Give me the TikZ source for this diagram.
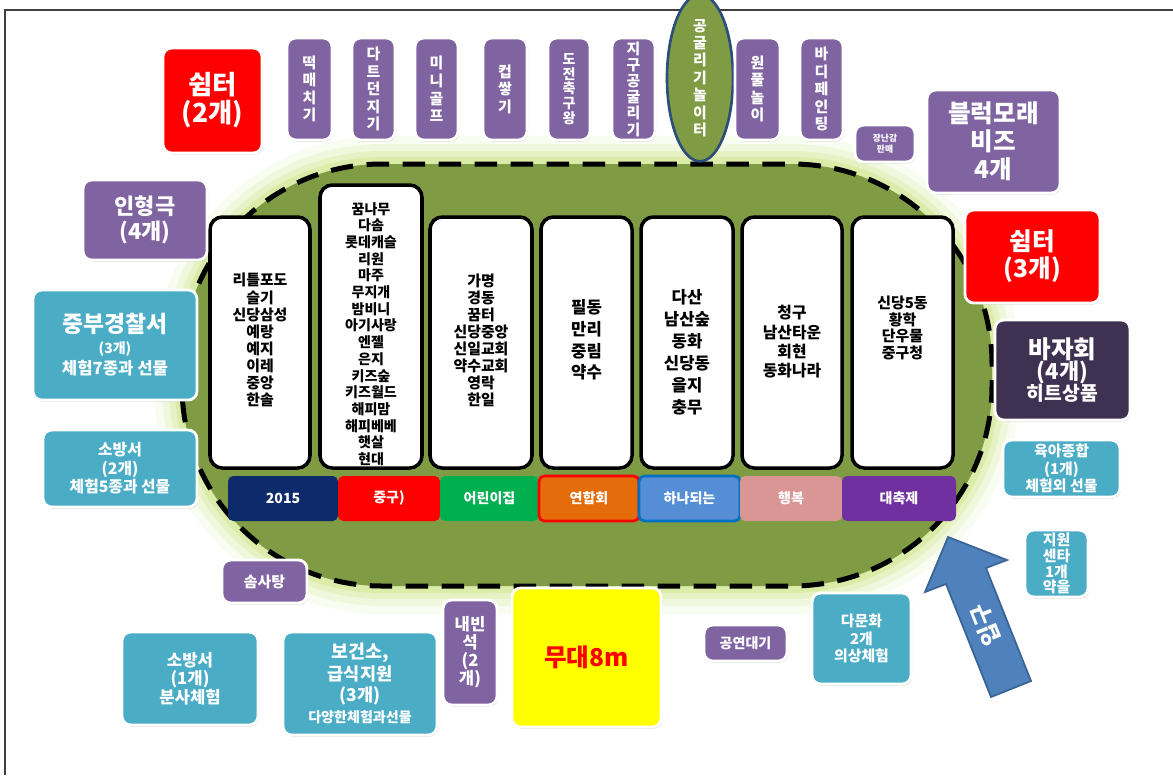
\documentclass[tikz,border=0pt]{standalone}
\usepackage{fontspec}
\setmainfont{Noto Sans CJK KR}
\usetikzlibrary{shapes.geometric,shadows}
\definecolor{cpurp}{HTML}{8064A2}
\definecolor{cteal}{HTML}{4BACC6}
\definecolor{colive}{HTML}{7F9C45}
\definecolor{chalo}{HTML}{CFE58C}
\definecolor{cnavy}{HTML}{0D2A6A}
\definecolor{cred}{HTML}{FF0000}
\definecolor{cgreen}{HTML}{00B050}
\definecolor{corange}{HTML}{E46C0A}
\definecolor{cblue}{HTML}{558ED5}
\definecolor{cblueline}{HTML}{0070C0}
\definecolor{cpink}{HTML}{D99694}
\definecolor{cviolet}{HTML}{7030A0}
\definecolor{cdark}{HTML}{3F3151}
\definecolor{cyellow}{HTML}{FFFF00}
\definecolor{carrow}{HTML}{4F81BD}
\definecolor{carrowline}{HTML}{3A6496}
\definecolor{cring}{HTML}{2C4D7A}
\newcommand{\fs}[2]{\fontsize{#1}{#2}\selectfont}

\begin{document}
\begin{tikzpicture}[x=0.02cm,y=-0.02cm,
  sz/.style 2 args={minimum width=#1*0.02cm,minimum height=#2*0.02cm},
  tile/.style={rounded corners=5pt,draw=white,line width=1.6pt,inner sep=0pt,align=center,text=white,font=\bfseries,
    drop shadow={opacity=.35,shadow xshift=.6pt,shadow yshift=-.9pt}},
  pbox/.style={tile,fill=cpurp},
  tbox/.style={tile,fill=cteal},
  vtxt/.style={font=\bfseries\fs{8.5}{10}},
  col/.style={draw=black,line width=2pt,fill=white,rounded corners=7pt,inner sep=0pt},
  coltxt/.style={align=center,inner sep=0pt,font=\bfseries\fs{8.5}{9.7}},
  bar/.style={rounded corners=3pt,inner sep=0pt,text=white,font=\bfseries\fs{8}{9},sz={#1}{45}}]
\useasboundingbox (0,0) rectangle (1173,775);
\draw[line width=1.2pt,black!75] (5,775) -- (5,10) -- (1173,10);

% field
\foreach \w/\o in {56/.12,40/.2,26/.3,14/.5}
  \draw[chalo,line width=\w*0.02cm,opacity=\o,rounded corners=4cm] (182,164) rectangle (992,586);
\fill[colive,rounded corners=4cm] (182,164) rectangle (992,586);
\draw[line width=0.1cm,dash pattern=on 0.45cm off 0.27cm,rounded corners=4cm] (182,164) rectangle (992,586);

\node[col,sz={100}{251}] (col1) at (260,342.5) {};
\node[col,sz={102}{283}] (col2) at (371,326.5) {};
\node[col,sz={102}{251}] (col3) at (481,342.5) {};
\node[col,sz={91}{251}] (col4) at (586.5,342.5) {};
\node[col,sz={92}{251}] (col5) at (687,342.5) {};
\node[col,sz={100}{251}] (col6) at (792,342.5) {};
\node[col,sz={101}{251}] (col7) at (902.5,342.5) {};

\node[coltxt] (txt1) at (260,340) {리틀포도\\슬기\\신당삼성\\예랑\\예지\\이레\\중앙\\한솔};
\node[coltxt,font=\bfseries\fs{8}{9.5}] (txt2) at (371,334) {꿈나무\\다솜\\롯데캐슬\\리원\\마주\\무지개\\밤비니\\아기사랑\\엔젤\\은지\\키즈숲\\키즈월드\\해피맘\\해피베베\\햇살\\현대};
\node[coltxt] (txt3) at (481,340) {가명\\경동\\꿈터\\신당중앙\\신일교회\\약수교회\\영락\\한일};
\node[coltxt,font=\bfseries\fs{9.5}{12.3}] (txt4) at (586.5,340) {필동\\만리\\중림\\약수};
\node[coltxt,font=\bfseries\fs{9.5}{12.5}] (txt5) at (687,352) {다산\\남산숲\\동화\\신당동\\을지\\충무};
\node[coltxt,font=\bfseries\fs{9}{11}] (txt6) at (792,342) {청구\\남산타운\\회현\\동화나라};
\node[coltxt,font=\bfseries\fs{8.5}{9.5}] (txt7) at (902.5,328) {신당5동\\황학\\단우물\\중구청};

\node[bar=110,fill=cnavy] (b2015) at (283,498.5) {2015};
\node[bar=102,fill=cred] (bjunggu) at (389,498.5) {중구)};
\node[bar=99,fill=cgreen] (bkinder) at (489.5,498.5) {어린이집};
\node[bar=100,fill=corange,draw=cred,line width=1.5pt] (bunion) at (589,498.5) {연합회};
\node[bar=101,fill=cblue,draw=cblueline,line width=1.5pt] (bone) at (689.5,498.5) {하나되는};
\node[bar=102,fill=cpink] (bhappy) at (791,498.5) {행복};
\node[bar=114,fill=cviolet] (bfest) at (899,498.5) {대축제};

% top row
\node[tile,fill=cred,sz={99}{105},font=\bfseries\fs{15}{16}] (rest2) at (212.5,100.5) {쉼터\\(2개)};
\node[pbox,vtxt,sz={45}{102}] (ttak) at (309.5,89) {떡\\매\\치\\기};
\node[pbox,vtxt,sz={43}{102}] (darts) at (373.5,89) {다\\트\\던\\지\\기};
\node[pbox,vtxt,sz={43}{102}] (golf) at (436.5,89) {미\\니\\골\\프};
\node[pbox,vtxt,sz={44}{102}] (cups) at (505,89) {컵\\쌓\\기};
\node[pbox,vtxt,font=\bfseries\fs{8}{8.4},sz={42}{102}] (soccer) at (569,89) {도\\전\\축\\구\\왕};
\node[pbox,vtxt,font=\bfseries\fs{8.5}{9.2},sz={43}{102}] (globe) at (633.5,89) {지\\구\\공\\굴\\리\\기};
\node[ellipse,fill=colive,draw=cring,line width=1.5pt,inner sep=0pt,sz={66}{130},align=center,text=white,font=\bfseries\fs{8.5}{9.9}] (ballpark) at (700,78) {공\\굴\\리\\기\\놀\\이\\터};
\node[pbox,vtxt,sz={45}{102}] (pool) at (757.5,89) {원\\풀\\놀\\이};
\node[pbox,vtxt,sz={43}{102}] (paint) at (821.5,89) {바\\디\\페\\인\\팅};
\node[pbox,sz={60}{37},font=\bfseries\fs{5}{6}] (toys) at (885,143.5) {장난감\\판매};
\node[pbox,sz={133}{103},font=\bfseries\fs{14}{16}] (blocks) at (993.5,141.5) {블럭모래\\비즈\\4개};

% left side
\node[pbox,sz={124}{80},font=\bfseries\fs{12.5}{14}] (puppet) at (145,220) {인형극\\(4개)};
\node[tbox,sz={164}{110}] (police) at (115,345) {\fs{13}{16}중부경찰서\\\fs{8}{11}(3개)\\\fs{9.5}{11}체험7종과 선물};
\node[tbox,sz={154}{77},font=\bfseries\fs{9}{10.5}] (fire2) at (120,468.5) {소방서\\(2개)\\체험5종과 선물};

% right side
\node[tile,fill=cred,sz={135}{93},font=\bfseries\fs{14}{15.5}] (rest3) at (1032.5,256.5) {쉼터\\(3개)};
\node[tile,fill=cdark,sz={135}{100}] (bazaar) at (1062.5,370) {\fs{14}{16}바자회\\\fs{12.5}{14}(4개)\\\fs{11}{13}히트상품};
\node[tbox,sz={117}{57},font=\bfseries\fs{8.5}{9.8}] (childcare) at (1061.5,468.5) {육아종합\\(1개)\\체험외 선물};
\node[tbox,sz={63}{67},font=\bfseries\fs{8.5}{9}] (support) at (1056.5,563.5) {지원\\센타\\1개\\약을};

% bottom
\node[pbox,sz={85}{43},font=\bfseries\fs{8.5}{10}] (cotton) at (264.5,581.5) {솜사탕};
\node[tbox,sz={136}{93},font=\bfseries\fs{9.5}{10.5}] (fire1) at (190,678.5) {소방서\\(1개)\\분사체험};
\node[tbox,sz={154}{103}] (health) at (360,683.5) {\fs{10.5}{11}보건소,\\급식지원\\(3개)\\\fs{8}{10}다양한체험과선물};
\node[pbox,sz={54}{105},font=\bfseries\fs{9.5}{10.3}] (guest) at (470,652.5) {내빈\\석\\(2\\개)};
\node[tile,fill=cyellow,text=cred,sz={149}{139},font=\bfseries\fs{14}{16}] (stage) at (586.5,657.5) {무대8m};
\node[pbox,sz={83}{36},font=\bfseries\fs{8}{9}] (waiting) at (745.5,643) {공연대기};
\node[tbox,sz={99}{91},font=\bfseries\fs{8.5}{10}] (multi) at (861.5,638.5) {다문화\\2개\\의상체험};

% entrance
\filldraw[fill=carrow,draw=carrowline,line width=1pt] (948,537) -- (1007,560) -- (986,568) -- (1031,681)
  -- (991,697) -- (946,584) -- (925,592) -- cycle;
\node[rotate=112,text=white,font=\bfseries\fs{13}{14}] (entry) at (986,625) {입구};
\end{tikzpicture}
\end{document}
